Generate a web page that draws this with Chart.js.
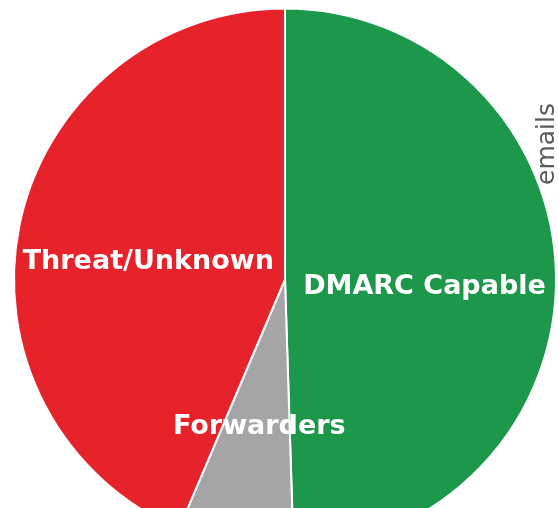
<!DOCTYPE html>
<html>
<head>
<meta charset="utf-8">
<script src="https://cdn.jsdelivr.net/npm/chart.js@4/dist/chart.umd.min.js"></script>
<style>
  html, body { margin: 0; padding: 0; background: #ffffff; overflow: hidden; }
  body { width: 558px; height: 508px; position: relative; }
  #wrap { position: absolute; left: 0; top: 0; width: 570px; height: 552px; }
</style>
</head>
<body>
<div id="wrap"><canvas id="pie" width="570" height="552"></canvas></div>
<script>
// Share of mail sources (percent)
const categories = ['DMARC Capable', 'Forwarders', 'Threat/Unknown'];
const shares = [49.5, 6.9, 43.6];
const sliceColors = ['#1d984b', '#a5a5a8', '#e6222b'];
const axisTitle = 'emails';

// Axis-style caption sitting behind the pie on the right side
const captionPlugin = {
  id: 'sideCaption',
  beforeDatasetsDraw(chart) {
    const ctx = chart.ctx;
    ctx.save();
    ctx.translate(554, 103);
    ctx.rotate(-Math.PI / 2);
    ctx.font = '25px "DejaVu Sans", sans-serif';
    ctx.fillStyle = '#5a5a5a';
    ctx.textAlign = 'right';
    ctx.textBaseline = 'alphabetic';
    ctx.fillText(axisTitle, 0, 0);
    ctx.restore();
  }
};

// Category names written near the middle of each slice
const sliceLabelPlugin = {
  id: 'sliceLabels',
  afterDatasetsDraw(chart) {
    const ctx = chart.ctx;
    const meta = chart.getDatasetMeta(0);
    ctx.save();
    ctx.font = 'bold 27px "DejaVu Sans", sans-serif';
    ctx.fillStyle = '#ffffff';
    ctx.textAlign = 'center';
    ctx.textBaseline = 'middle';
    meta.data.forEach((arc, i) => {
      const a = arc.getProps(['x', 'y', 'startAngle', 'endAngle', 'outerRadius'], true);
      const mid = (a.startAngle + a.endAngle) / 2;
      const dist = a.outerRadius / 2 + 4;
      const x = a.x + Math.cos(mid) * dist;
      const y = a.y + Math.sin(mid) * dist + 10;
      ctx.fillText(chart.data.labels[i], x, y);
    });
    ctx.restore();
  }
};

new Chart(document.getElementById('pie'), {
  type: 'pie',
  data: {
    labels: categories,
    datasets: [{
      data: shares,
      backgroundColor: sliceColors,
      borderColor: '#ffffff',
      borderWidth: 2
    }]
  },
  options: {
    responsive: false,
    animation: false,
    layout: { padding: { left: 13, right: 13, top: 7, bottom: 0 } },
    plugins: {
      legend: { display: false },
      tooltip: { enabled: false }
    }
  },
  plugins: [captionPlugin, sliceLabelPlugin]
});
</script>
</body>
</html>
